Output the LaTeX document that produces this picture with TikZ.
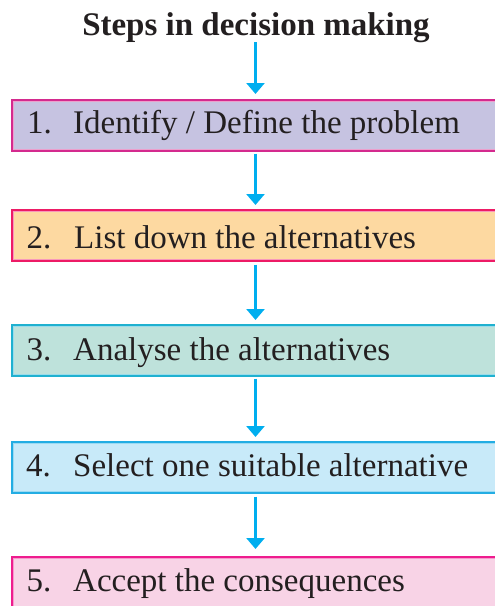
\documentclass[tikz,border=0pt]{standalone}
\usepackage{fontspec}
\setmainfont{Liberation Serif}
\usetikzlibrary{arrows.meta}
\definecolor{txtc}{HTML}{231F20}
\definecolor{arrc}{HTML}{00AEEF}
\definecolor{fillA}{HTML}{C6C3E1}\definecolor{lineA}{HTML}{D42A8E}
\definecolor{fillB}{HTML}{FDD9A1}\definecolor{lineB}{HTML}{ED1B66}
\definecolor{fillC}{HTML}{BEE2DB}\definecolor{lineC}{HTML}{1FB1D0}
\definecolor{fillD}{HTML}{C8EAF9}\definecolor{lineD}{HTML}{23ADE3}
\definecolor{fillE}{HTML}{F8D3E6}\definecolor{lineE}{HTML}{EE1C8E}
\tikzset{
  stepbox/.style 2 args={draw=#2, fill=#1, line width=2.2pt, anchor=north west,
    minimum width=495pt, minimum height=50.5pt, inner sep=0pt},
  innerline/.style={draw=#1!45!white, line width=0.8pt},
  numtxt/.style={anchor=base west, inner sep=0pt, text=txtc, font=\fontsize{33}{36}\selectfont},
  steptxt/.style={anchor=base west, inner sep=0pt, text=txtc, font=\fontsize{33}{36}\selectfont},
  flow/.style={draw=arrc, line width=2.6pt, -{Triangle[width=18pt,length=11pt]}},
}
\begin{document}
\begin{tikzpicture}[x=1pt,y=-1pt]
\useasboundingbox (0,0) rectangle (495,606);
\clip (0,0) rectangle (495,606);
\coordinate (ax) at (255.5,0);
\node[anchor=base, inner sep=0pt, text=txtc, font=\fontsize{33}{36}\selectfont\bfseries] (title) at (256,35) {Steps in decision making};

\node[stepbox={fillA}{lineA}] (b1) at (11,99) {};
\node[stepbox={fillB}{lineB}] (b2) at (11,209) {};
\node[stepbox={fillC}{lineC}] (b3) at (11,324) {};
\node[stepbox={fillD}{lineD}] (b4) at (11,441) {};
\node[stepbox={fillE}{lineE}] (b5) at (11,556) {};

\foreach \b/\c in {b1/lineA,b2/lineB,b3/lineC,b4/lineD,b5/lineE}{
  \draw[innerline=\c] ([shift={(2.6,2.6)}]\b.north west) rectangle ([shift={(-2.6,-2.6)}]\b.south east);
}

\node[numtxt] (n1) at (27,133.5) {1.};
\node[steptxt] (t1) at (73,133.5) {Identify / Define the problem};
\node[numtxt] (n2) at (26.5,248.3) {2.};
\node[steptxt] (t2) at (74,248.3) {List down the alternatives};
\node[numtxt] (n3) at (26.5,360) {3.};
\node[steptxt] (t3) at (73,360) {Analyse the alternatives};
\node[numtxt] (n4) at (26,476.7) {4.};
\node[steptxt] (t4) at (73,476.7) {Select one suitable alternative};
\node[numtxt] (n5) at (26.5,591.7) {5.};
\node[steptxt] (t5) at (73,591.7) {Accept the consequences};

\draw[flow, shorten <=0pt, shorten >=5pt] (title.south -| ax) -- (b1.north -| ax);
\draw[flow, shorten <=2pt, shorten >=4pt] (b1.south -| ax) -- (b2.north -| ax);
\draw[flow, shorten <=3pt, shorten >=4pt] (b2.south -| ax) -- (b3.north -| ax);
\draw[flow, shorten <=2pt, shorten >=4pt] (b3.south -| ax) -- (b4.north -| ax);
\draw[flow, shorten <=3pt, shorten >=7pt] (b4.south -| ax) -- (b5.north -| ax);
\end{tikzpicture}
\end{document}
